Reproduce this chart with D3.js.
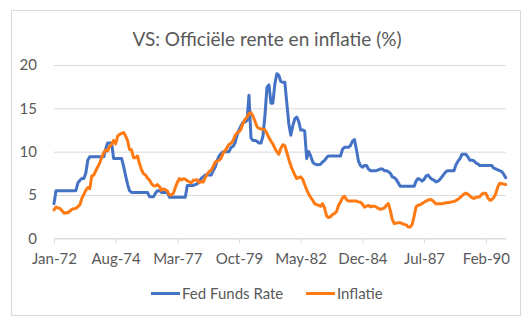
<!DOCTYPE html>
<html>
<head>
<meta charset="utf-8">
<script src="https://cdn.jsdelivr.net/npm/d3@7"></script>
<style>
  html, body { margin: 0; padding: 0; background: #ffffff; }
  svg { display: block; }
  text { font-family: Lato, "Open Sans", "Liberation Sans", sans-serif; fill: #595959; }
</style>
</head>
<body>
<svg id="chart" width="532" height="328"></svg>
<script>
// ---- Data (monthly, Jan-1972 .. Dec-1990) ----
const startMonth = "Jan-72";
const endMonth = "Dec-90";

const fedFundsRate = [
  // 1972
  4.0, 5.5, 5.5, 5.5, 5.5, 5.5, 5.5, 5.5, 5.5, 5.5, 5.5, 5.5,
  // 1973
  6.4, 6.7, 6.9, 6.9, 7.5, 9.0, 9.4, 9.4, 9.4, 9.4, 9.4, 9.4,
  // 1974
  9.4, 9.4, 10.3, 11.0, 11.0, 11.0, 9.2, 9.2, 9.2, 9.2, 9.2, 8.3,
  // 1975
  7.2, 6.2, 5.5, 5.3, 5.3, 5.3, 5.3, 5.3, 5.3, 5.3, 5.3, 5.3,
  // 1976
  4.8, 4.8, 4.8, 5.2, 5.5, 5.5, 5.3, 5.3, 5.3, 5.3, 4.75, 4.75,
  // 1977
  4.75, 4.75, 4.75, 4.75, 4.75, 4.75, 4.75, 6.1, 6.1, 6.1, 6.1, 6.2,
  // 1978
  6.3, 6.6, 6.9, 7.1, 7.3, 7.3, 7.3, 7.3, 7.8, 8.2, 9.0, 9.5,
  // 1979
  9.8, 10.0, 10.0, 10.0, 10.0, 10.5, 10.6, 11.0, 11.9, 12.5, 13.0, 13.4,
  // 1980
  13.4, 13.6, 16.5, 11.6, 11.3, 11.3, 11.2, 11.0, 11.0, 11.8, 14.2, 17.4,
  // 1981
  17.7, 15.6, 15.6, 17.8, 19.0, 18.8, 18.1, 18.0, 18.0, 15.6, 13.2, 11.9,
  // 1982
  13.0, 13.8, 14.0, 13.5, 12.5, 12.5, 12.4, 9.2, 10.0, 9.5, 8.8, 8.6,
  // 1983
  8.5, 8.5, 8.55, 8.8, 9.0, 9.3, 9.5, 9.5, 9.5, 9.5, 9.5, 9.5,
  // 1984
  9.5, 10.3, 10.5, 10.5, 10.5, 10.7, 11.2, 11.4, 10.2, 8.9, 8.4, 8.2,
  // 1985
  8.4, 8.4, 8.0, 7.8, 7.8, 7.8, 7.8, 7.9, 8.0, 8.0, 7.8, 7.8,
  // 1986
  7.7, 7.5, 7.1, 7.0, 6.8, 6.4, 6.0, 6.0, 6.0, 6.0, 6.0, 6.0,
  // 1987
  6.0, 6.0, 6.6, 6.9, 6.8, 6.6, 6.8, 7.2, 7.3, 7.0, 6.8, 6.7,
  // 1988
  6.5, 6.6, 6.8, 7.1, 7.4, 7.7, 7.8, 7.8, 7.8, 7.8, 8.5, 8.9,
  // 1989
  9.2, 9.7, 9.7, 9.7, 9.4, 9.0, 9.0, 8.95, 8.7, 8.6, 8.4, 8.4,
  // 1990
  8.4, 8.4, 8.4, 8.4, 8.4, 8.1, 8.0, 7.9, 7.8, 7.7, 7.4, 7.0
];

const inflation = [
  // 1972
  3.27, 3.6, 3.5, 3.45, 3.2, 2.9, 2.95, 2.95, 3.15, 3.35, 3.4, 3.45,
  // 1973
  3.65, 3.87, 4.59, 5.06, 5.53, 5.85, 5.73, 7.2, 7.3, 7.8, 8.25, 8.71,
  // 1974
  9.39, 9.9, 10.2, 10.09, 10.6, 10.86, 11.3, 10.9, 11.8, 12.0, 12.1, 12.2,
  // 1975
  11.8, 11.23, 10.25, 10.21, 9.3, 9.3, 9.5, 8.6, 7.91, 7.44, 7.3, 6.94,
  // 1976
  6.72, 6.29, 6.07, 6.05, 6.2, 5.97, 5.55, 5.71, 5.6, 5.45, 5.0, 5.0,
  // 1977
  5.21, 5.91, 6.44, 6.9, 6.73, 6.87, 6.83, 6.62, 6.5, 6.39, 6.72, 6.7,
  // 1978
  6.75, 6.43, 6.55, 6.5, 6.97, 7.41, 7.7, 7.84, 8.31, 8.8, 8.89, 9.02,
  // 1979
  9.28, 9.86, 10.09, 10.49, 10.85, 10.95, 11.26, 11.82, 12.18, 12.27, 12.61, 13.29,
  // 1980
  13.7, 14.0, 14.4, 14.5, 14.1, 13.5, 12.9, 12.7, 12.6, 12.6, 12.5, 12.1,
  // 1981
  11.6, 11.2, 10.9, 10.4, 10.0, 9.7, 10.4, 10.8, 10.7, 9.9, 9.1, 8.4,
  // 1982
  7.8, 7.3, 6.9, 7.0, 7.1, 6.8, 6.2, 5.6, 5.1, 4.7, 4.4, 4.0,
  // 1983
  3.9, 3.8, 3.7, 4.0, 3.5, 2.6, 2.4, 2.5, 2.75, 2.85, 3.1, 3.8,
  // 1984
  4.2, 4.7, 4.85, 4.45, 4.3, 4.3, 4.3, 4.3, 4.3, 4.2, 4.15, 3.95,
  // 1985
  3.6, 3.7, 3.8, 3.65, 3.7, 3.7, 3.6, 3.45, 3.35, 3.4, 3.5, 3.8,
  // 1986
  4.0, 3.2, 2.2, 1.7, 1.75, 1.8, 1.8, 1.7, 1.6, 1.55, 1.3, 1.3,
  // 1987
  1.6, 2.6, 3.65, 3.8, 3.9, 4.0, 4.15, 4.3, 4.4, 4.5, 4.4, 4.2,
  // 1988
  3.95, 4.0, 4.0, 4.0, 4.05, 4.1, 4.1, 4.15, 4.2, 4.25, 4.35, 4.5,
  // 1989
  4.7, 4.9, 5.1, 5.2, 5.1, 4.9, 4.7, 4.6, 4.7, 4.75, 4.8, 5.1,
  // 1990
  5.2, 5.2, 4.7, 4.4, 4.45, 4.7, 5.1, 5.9, 6.35, 6.3, 6.25, 6.2
];

const xTickLabels = ["Jan-72", "Aug-74", "Mar-77", "Oct-79", "May-82", "Dec-84", "Jul-87", "Feb-90"];
const yTicks = [0, 5, 10, 15, 20];
const seriesNames = ["Fed Funds Rate", "Inflatie"];
const titleText = "VS: Officiële rente en inflatie (%)";

// ---- Build ----
const parse = d3.timeParse("%b-%y");
const fmt = d3.timeFormat("%b-%y");
const months = d3.timeMonth.range(parse(startMonth), d3.timeMonth.offset(parse(endMonth), 1));

const colors = ["#4472C4", "#FF7A12"];
const series = [fedFundsRate, inflation];

const svg = d3.select("#chart");

// chart frame
svg.append("rect")
  .attr("x", 11.5).attr("y", 10.5)
  .attr("width", 509).attr("height", 305)
  .attr("fill", "#ffffff").attr("stroke", "#d9d9d9").attr("stroke-width", 1);

const plot = { left: 54, right: 505.7, top: 65, bottom: 238.3 };

const x = d3.scaleTime()
  .domain([months[0], months[months.length - 1]])
  .range([plot.left, plot.right]);
const y = d3.scaleLinear().domain([0, 20]).range([plot.bottom, plot.top]);

// title
svg.append("text")
  .attr("x", 267).attr("y", 46)
  .attr("text-anchor", "middle")
  .style("font-size", "19px")
  .text(titleText);

// gridlines + y labels
const yAxis = d3.axisLeft(y).tickValues(yTicks).tickSize(-(plot.right - plot.left)).tickPadding(17);
const gy = svg.append("g").attr("transform", `translate(${plot.left},0)`).call(yAxis);
gy.select(".domain").remove();
gy.selectAll(".tick line").attr("stroke", "#d9d9d9").attr("stroke-width", 1);
gy.selectAll(".tick text").style("font-size", "15px").attr("fill", "#595959")
  .style("font-family", "Lato, 'Open Sans', sans-serif");

// x axis
const xAxis = d3.axisBottom(x)
  .tickValues(xTickLabels.map(parse))
  .tickFormat(fmt)
  .tickSize(5).tickSizeOuter(0).tickPadding(10);
const gx = svg.append("g").attr("transform", `translate(0,${plot.bottom})`).call(xAxis);
gx.select(".domain").attr("stroke", "#d9d9d9");
gx.selectAll(".tick line").attr("stroke", "#d9d9d9");
gx.selectAll(".tick text").style("font-size", "15px").attr("fill", "#595959")
  .style("font-family", "Lato, 'Open Sans', sans-serif");

// lines
const line = d3.line()
  .x((d, i) => x(months[i]))
  .y(d => y(d));

series.forEach((s, k) => {
  svg.append("path")
    .datum(s)
    .attr("d", line)
    .attr("fill", "none")
    .attr("stroke", colors[k])
    .attr("stroke-width", 3)
    .attr("stroke-linejoin", "round")
    .attr("stroke-linecap", "round");
});

// legend
const legendItems = [
  { x: 151, name: seriesNames[0], color: colors[0] },
  { x: 306, name: seriesNames[1], color: colors[1] }
];
const lg = svg.append("g");
legendItems.forEach(it => {
  lg.append("line")
    .attr("x1", it.x).attr("x2", it.x + 29)
    .attr("y1", 293.5).attr("y2", 293.5)
    .attr("stroke", it.color).attr("stroke-width", 3);
  lg.append("text")
    .attr("x", it.x + 31).attr("y", 299)
    .style("font-size", "15px")
    .text(it.name);
});
</script>
</body>
</html>
